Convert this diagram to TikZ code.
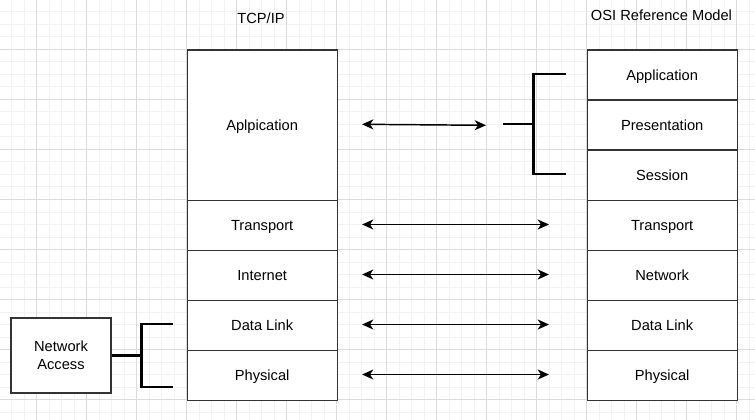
\documentclass[tikz,border=0pt]{standalone}
\usepackage{fontspec}
\setmainfont{Liberation Sans}
\usetikzlibrary{arrows.meta}
\begin{document}
\begin{tikzpicture}[x=0.75pt,y=-0.75pt,
  capcentre/.style={text height=7.9pt,text depth=0pt},
  layer/.style={draw=black!80,line width=1pt,fill=white,minimum width=150*0.75pt,minimum height=50*0.75pt,inner sep=0pt,font=\fontsize{11}{13}\selectfont,capcentre,anchor=north west},
  ttl/.style={font=\fontsize{11}{13}\selectfont,inner sep=0pt,capcentre},
  twoway/.style={line width=1.1pt,{Stealth[length=8.5pt,width=7.5pt,inset=2.5pt]}-{Stealth[length=8.5pt,width=7.5pt,inset=2.5pt]}},
  brace/.style={line width=2.2pt,line cap=butt,line join=miter}]
\useasboundingbox (0,0) rectangle (755,420);
\fill[white] (0,0) rectangle (755,420);
% grid
\foreach \i in {-2,...,57}{
  \pgfmathsetmacro\gx{36.5+12.5*\i}
  \draw[black!5,line width=0.75pt] (\gx,0) -- (\gx,420);
}
\foreach \i in {-3,...,29}{
  \pgfmathsetmacro\gy{49.5+12.5*\i}
  \draw[black!5,line width=0.75pt] (0,\gy) -- (755,\gy);
}
\foreach \i in {0,...,14}{
  \pgfmathsetmacro\gx{36.5+50*\i}
  \draw[black!14,line width=0.75pt] (\gx,0) -- (\gx,420);
}
\foreach \i in {-1,...,7}{
  \pgfmathsetmacro\gy{49.5+50*\i}
  \draw[black!14,line width=0.75pt] (0,\gy) -- (755,\gy);
}
% titles
\node[ttl] (tcpt) at (261,18.3) {TCP/IP};
\node[ttl] (osit) at (661.5,15.7) {OSI Reference Model};
% TCP/IP stack
\node[layer,minimum height=150*0.75pt] (tapp) at (186.5,49.5) {Aplpication};
\node[layer] (ttra) at (186.5,199.5) {Transport};
\node[layer] (tint) at (186.5,249.5) {Internet};
\node[layer] (tdl) at (186.5,299.5) {Data Link};
\node[layer] (tphy) at (186.5,349.5) {Physical};
% OSI stack
\node[layer] (oapp) at (586.5,49.5) {Application};
\node[layer] (opre) at (586.5,99.5) {Presentation};
\node[layer] (oses) at (586.5,149.5) {Session};
\node[layer] (otra) at (586.5,199.5) {Transport};
\node[layer] (onet) at (586.5,249.5) {Network};
\node[layer] (odl) at (586.5,299.5) {Data Link};
\node[layer] (ophy) at (586.5,349.5) {Physical};
% network access
\node[draw=black!80,line width=1pt,fill=white,minimum width=100*0.75pt,minimum height=75*0.75pt,inner sep=0pt,align=center,font=\fontsize{11}{13.2}\selectfont,text height=21.1pt,text depth=0pt] (na) at (61,355.5) {Network\\Access};
% arrow end points
\coordinate (a1l) at (362,124.3);
\coordinate (a1r) at (486,125.3);
\coordinate (a2l) at (362,224.5);
\coordinate (a2r) at (549,224.5);
\coordinate (a3l) at (362,274.5);
\coordinate (a3r) at (549,274.5);
\coordinate (a4l) at (362,324.5);
\coordinate (a4r) at (549,324.5);
\coordinate (a5l) at (362,374.5);
\coordinate (a5r) at (549,374.5);
\draw[twoway] (a1l) -- (a1r);
\draw[twoway] (a2l) -- (a2r);
\draw[twoway] (a3l) -- (a3r);
\draw[twoway] (a4l) -- (a4r);
\draw[twoway] (a5l) -- (a5r);
% right bracket
\coordinate (rbs) at (503,124);
\coordinate (rbm) at (533.5,124);
\coordinate (rbt) at (566,74);
\coordinate (rbb) at (566,174);
\draw[brace] (rbs) -- (rbm);
\draw[brace] (rbt) -- (rbm |- rbt) -- (rbm |- rbb) -- (rbb);
% left bracket
\coordinate (lbm) at (141.5,355.5);
\coordinate (lbt) at (173,324);
\coordinate (lbb) at (173,387);
\draw[brace] (na.east) -- (lbm);
\draw[brace] (lbt) -- (lbm |- lbt) -- (lbm |- lbb) -- (lbb);
\end{tikzpicture}
\end{document}
